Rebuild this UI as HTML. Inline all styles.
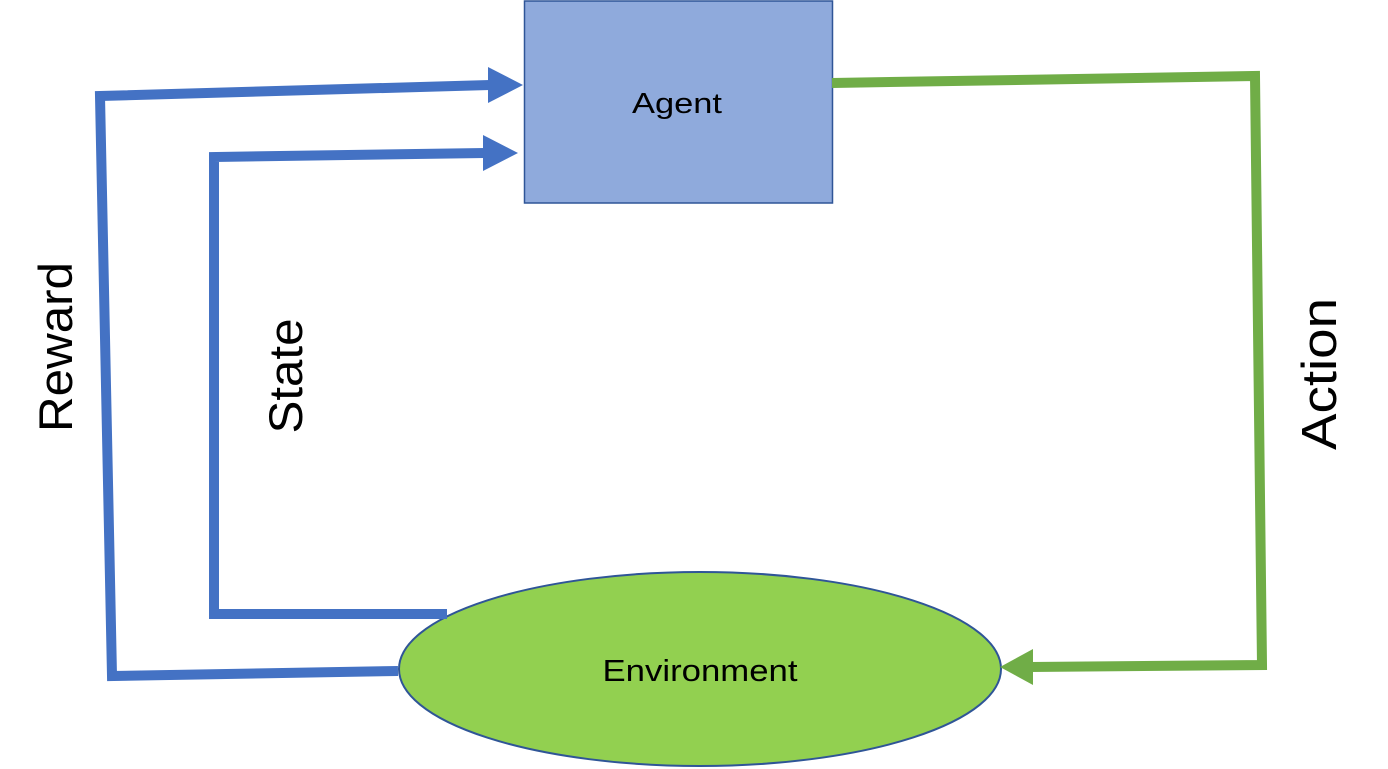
<!DOCTYPE html>
<html><head><style>body{margin:0;background:#fff}svg{display:block}</style></head><body>
<svg width="1388" height="769" xmlns="http://www.w3.org/2000/svg">
<rect x="524.5" y="1" width="308" height="202" fill="#8faadc" stroke="#2f5597" stroke-width="1.5"/>
<text x="677" y="113" font-family="Liberation Sans, sans-serif" font-size="29" text-anchor="middle" textLength="90" lengthAdjust="spacingAndGlyphs">Agent</text>
<ellipse cx="700" cy="669" rx="301" ry="97" fill="#92d050" stroke="#2f5597" stroke-width="2"/>
<text x="700" y="681" font-family="Liberation Sans, sans-serif" font-size="31" text-anchor="middle" textLength="195" lengthAdjust="spacingAndGlyphs">Environment</text>
<g fill="none" stroke="#4472c4" stroke-width="10">
<polyline points="398,671 112,676 100,96 490,85"/>
<polyline points="447,614 214,614 214,157 485,153"/>
</g>
<polygon points="488,67 523,85 488,103" fill="#4472c4"/>
<polygon points="483,135 518,153 483,171" fill="#4472c4"/>
<g fill="none" stroke="#70ad47" stroke-width="10">
<polyline points="832,83 1255,76 1262,665 1030,667"/>
</g>
<polygon points="1033,649 1000,667 1033,685" fill="#70ad47"/>
<text transform="translate(72,347) rotate(-90)" font-family="Liberation Sans, sans-serif" font-size="47" text-anchor="middle" textLength="170" lengthAdjust="spacingAndGlyphs">Reward</text>
<text transform="translate(302,376) rotate(-90)" font-family="Liberation Sans, sans-serif" font-size="47" text-anchor="middle" textLength="115" lengthAdjust="spacingAndGlyphs">State</text>
<text transform="translate(1336,374) rotate(-90)" font-family="Liberation Sans, sans-serif" font-size="49" text-anchor="middle" textLength="152" lengthAdjust="spacingAndGlyphs">Action</text>
</svg>
</body></html>
